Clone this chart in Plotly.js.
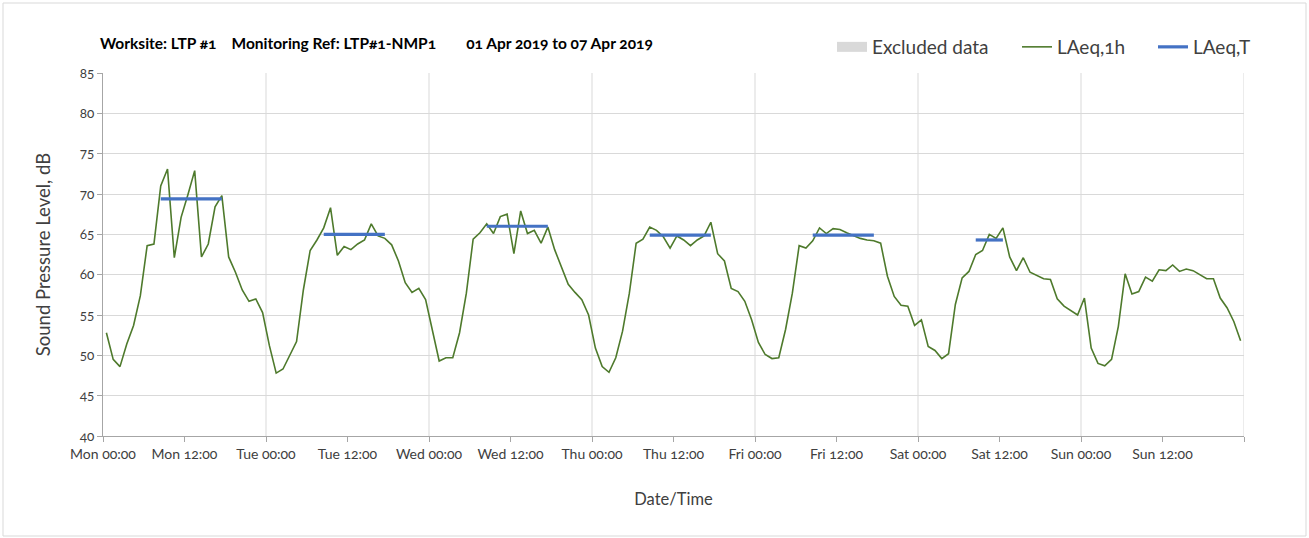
<!DOCTYPE html>
<html><head><meta charset="utf-8">
<script src="https://cdn.plot.ly/plotly-3.0.1.min.js"></script>
<style>
html,body{margin:0;padding:0;background:#fff}
#chart{width:1309px;height:538px}
.main-svg text{font-feature-settings:"onum" 1;}
</style>
</head><body><div id="chart"></div>
<script>
// ---- data (hourly LAeq,1h values, dB) ----
const dayNames = ['Mon','Tue','Wed','Thu','Fri','Sat','Sun'];
const laeq1hMon = [52.8,49.5,48.6,51.4,53.7,57.4,63.6,63.8,71.0,73.1,62.1,67.1,69.9,72.9,62.2,63.8,68.4,69.8,62.2,60.3,58.1,56.7,57.0,55.3];
const laeq1hTue = [51.2,47.8,48.3,49.9,51.7,58.1,63.0,64.3,65.8,68.3,62.4,63.5,63.1,63.8,64.3,66.3,64.8,64.5,63.7,61.7,59.0,57.8,58.3,56.9];
const laeq1hWed = [53.0,49.3,49.7,49.7,52.8,57.7,64.4,65.2,66.3,65.1,67.2,67.5,62.6,67.9,65.1,65.5,63.9,65.9,63.1,61.0,58.8,57.8,56.9,55.0];
const laeq1hThu = [50.9,48.6,47.9,49.7,53.0,57.7,63.9,64.4,65.9,65.5,64.7,63.3,64.8,64.3,63.6,64.3,64.8,66.5,62.6,61.7,58.3,57.9,56.7,54.4];
const laeq1hFri = [51.6,50.1,49.6,49.7,53.2,57.7,63.6,63.3,64.2,65.8,65.1,65.7,65.6,65.2,64.8,64.5,64.3,64.2,63.9,59.8,57.3,56.2,56.1,53.7];
const laeq1hSat = [54.4,51.1,50.6,49.6,50.2,56.3,59.6,60.4,62.5,63.0,65.0,64.5,65.8,62.2,60.5,62.1,60.3,59.9,59.5,59.4,57.0,56.1,55.6,55.0];
const laeq1hSun = [57.1,50.9,49.0,48.7,49.5,53.6,60.1,57.6,57.9,59.7,59.2,60.6,60.5,61.2,60.4,60.7,60.5,60.0,59.5,59.5,57.1,55.9,54.2,51.8];

// LAeq,T per day and its assessment period (first and last hour included)
const laeqT = [69.4,65.0,66.0,64.9,64.9,64.3,null];
const periodFirstHour = [8,8,8,8,8,8,null];
const periodLastHour  = [17,17,17,17,17,12,null];

const tickHours = [0,12,24,36,48,60,72,84,96,108,120,132,144,156,168];
const tickLabels = ['Mon 00:00','Mon 12:00','Tue 00:00','Tue 12:00','Wed 00:00','Wed 12:00','Thu 00:00','Thu 12:00','Fri 00:00','Fri 12:00','Sat 00:00','Sat 12:00','Sun 00:00','Sun 12:00',''];
const dayBoundaries = [24,48,72,96,120,144,168];

// ---- build traces ----
const hourly = [].concat(laeq1hMon,laeq1hTue,laeq1hWed,laeq1hThu,laeq1hFri,laeq1hSat,laeq1hSun);
const xHourly = hourly.map((v,i)=>i+0.5);

const xT=[], yT=[];
laeqT.forEach((v,d)=>{
  if(v===null) return;
  for(let h=periodFirstHour[d]; h<=periodLastHour[d]; h++){ xT.push(d*24+h+0.5); yT.push(v); }
  xT.push(null); yT.push(null);
});

const axisCol='#a6a6a6', gridCol='#d9d9d9', txtCol='#404040';
const FONT='Lato, "Open Sans", sans-serif';

const traces = [
  {type:'scatter', mode:'lines', name:'Excluded data', x:[null], y:[null],
   line:{color:'#d9d9d9', width:10}, legend:'legend', hoverinfo:'skip'},
  {type:'scatter', mode:'lines', name:'LAeq,1h', x:xHourly, y:hourly,
   line:{color:'#4e7a2c', width:1.6}, legend:'legend2'},
  {type:'scatter', mode:'lines', name:'LAeq,T', x:xT, y:yT, connectgaps:false,
   line:{color:'#4472c4', width:3.2}, legend:'legend3'}
];

const shapes = dayBoundaries.map(h=>({type:'line', xref:'x', yref:'paper', x0:h, x1:h, y0:0, y1:1,
  line:{color:gridCol, width:1}, layer:'below'}));
shapes.push({type:'rect', xref:'paper', yref:'paper', x0:(3-103)/1141, x1:(1306-103)/1141,
  y0:(436-536)/363, y1:(436-3)/363, line:{color:'#d9d9d9', width:1}, fillcolor:'rgba(0,0,0,0)'});

const legBase = {orientation:'h', yanchor:'middle', y:(436-47)/363, xanchor:'left',
  bgcolor:'rgba(0,0,0,0)', font:{family:FONT, size:19, color:txtCol}};

const layout = {
  width:1309, height:538,
  margin:{l:103, r:65, t:73, b:102},
  paper_bgcolor:'#fff', plot_bgcolor:'#fff',
  font:{family:FONT, color:txtCol},
  title:{text:'<b>Worksite: LTP #1\u00a0\u00a0\u00a0\u00a0Monitoring Ref: LTP#1-NMP1\u00a0\u00a0\u00a0\u00a0\u00a0\u00a0\u00a0\u00a001 Apr 2019 to 07 Apr 2019</b>',
    font:{family:FONT, size:15.5, color:'#000'}, xref:'container', x:100/1309, xanchor:'left',
    yref:'container', y:1-44/538, yanchor:'middle'},
  xaxis:{type:'linear', range:[0,168], tickmode:'array', tickvals:tickHours, ticktext:tickLabels,
    showgrid:false, zeroline:false, showline:true, linecolor:axisCol, linewidth:1,
    ticks:'outside', ticklen:5, tickcolor:axisCol, tickfont:{family:FONT, size:14, color:txtCol},
    title:{text:'Date/Time', font:{family:FONT, size:16.5, color:txtCol}, standoff:32}, fixedrange:true},
  yaxis:{range:[40,85], dtick:5, tick0:40, showgrid:true, gridcolor:gridCol, zeroline:false,
    showline:true, linecolor:axisCol, linewidth:1, ticks:'outside', ticklen:5, tickcolor:axisCol,
    tickfont:{family:FONT, size:13.5, color:txtCol},
    title:{text:'Sound Pressure Level, dB', font:{family:FONT, size:18.5, color:txtCol}, standoff:23}, fixedrange:true},
  legend:Object.assign({}, legBase, {x:(832-103)/1141}),
  legend2:Object.assign({}, legBase, {x:(1017-103)/1141}),
  legend3:Object.assign({}, legBase, {x:(1153-103)/1141}),
  shapes:shapes,
  showlegend:true
};

Plotly.newPlot('chart', traces, layout, {displayModeBar:false, staticPlot:true});
</script>
</body></html>
